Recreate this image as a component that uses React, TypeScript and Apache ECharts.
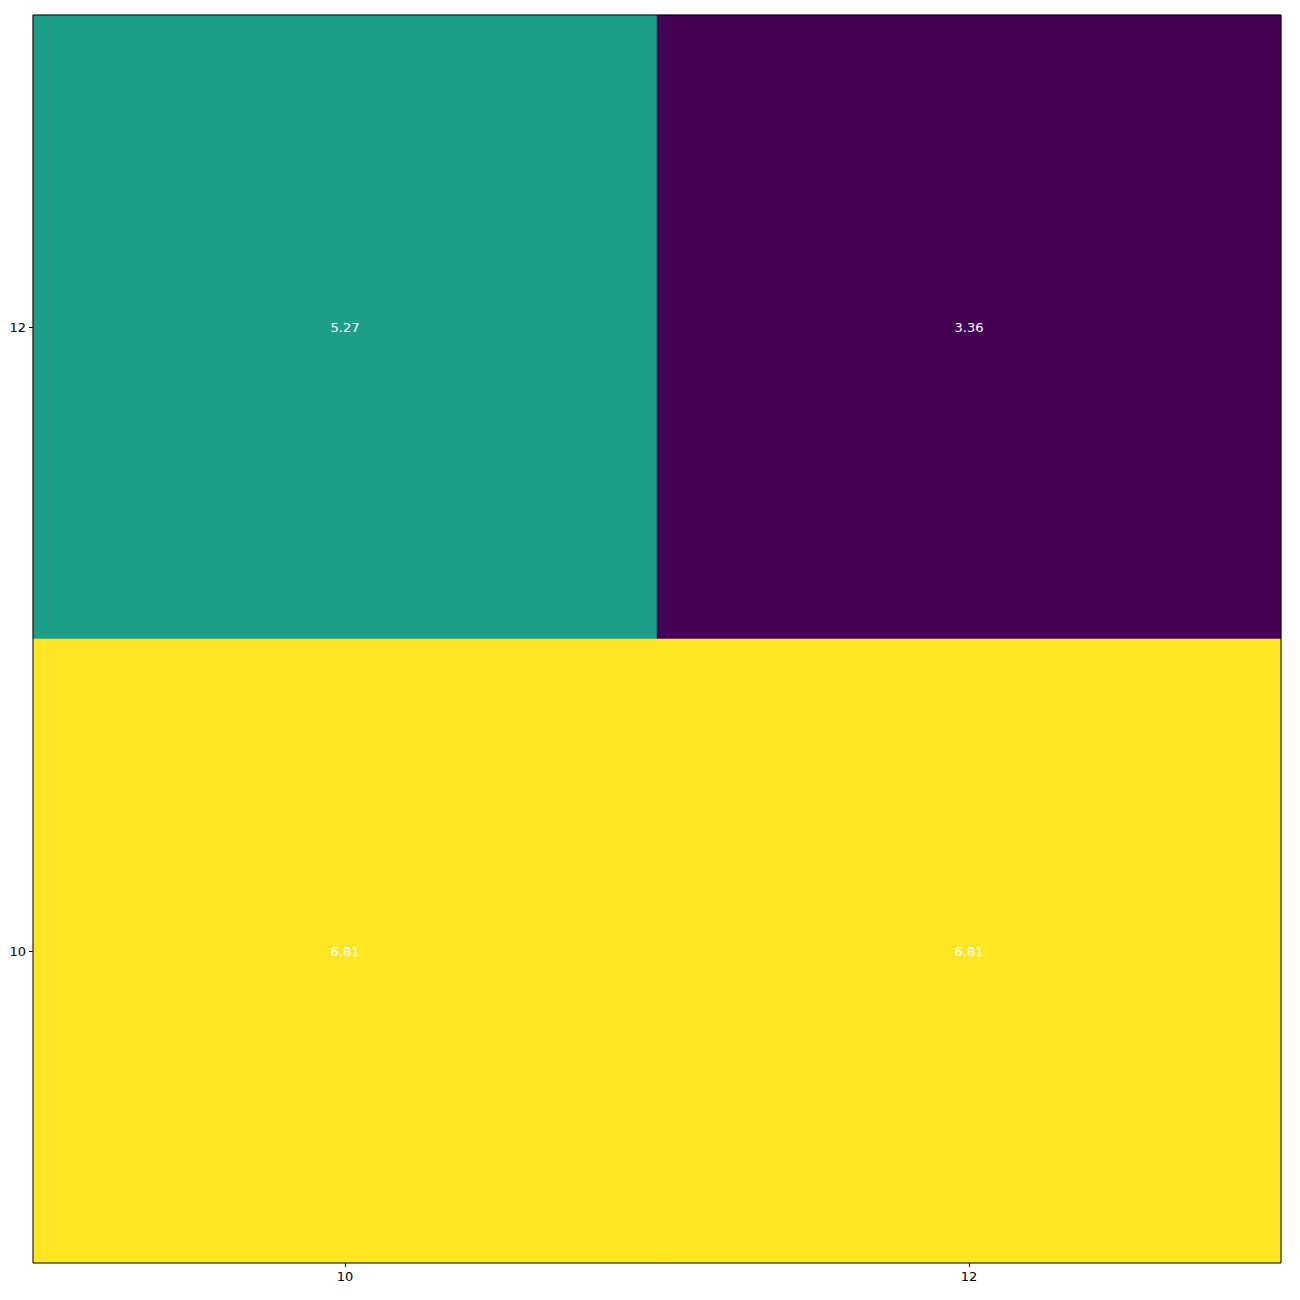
import React, { useEffect, useRef } from "react";
import * as echarts from "echarts";

const xCategories = ["10", "12"];
const yCategories = ["10", "12"];
// [xIndex, yIndex, value]
const cellValues: [number, number, number][] = [
  [0, 1, 5.27],
  [1, 1, 3.36],
  [0, 0, 6.81],
  [1, 0, 6.81],
];
const viridis = ["#440154", "#482878", "#3e4989", "#31688e", "#26828e", "#1f9e89", "#35b779", "#6ece58", "#b5de2b", "#fde725"];

export default function App() {
  const ref = useRef<HTMLDivElement>(null);
  useEffect(() => {
    document.body.style.margin = "0";
    const chart = echarts.init(ref.current!, null, { renderer: "svg" });
    const font = "DejaVu Sans";
    chart.setOption({
      animation: false,
      backgroundColor: "#ffffff",
      grid: { left: 33, top: 15, width: 1248, height: 1248, show: true, borderColor: "#000", borderWidth: 1, backgroundColor: "transparent", z: 10 },
      xAxis: {
        type: "category",
        data: xCategories,
        axisLine: { show: false },
        axisTick: { show: true, alignWithLabel: true, length: 4, lineStyle: { color: "#000" } },
        axisLabel: { color: "#000", fontSize: 13, fontFamily: font, margin: 7 },
        splitLine: { show: false },
      },
      yAxis: {
        type: "category",
        data: yCategories,
        axisLine: { show: false },
        axisTick: { show: true, alignWithLabel: true, length: 4, lineStyle: { color: "#000" } },
        axisLabel: { color: "#000", fontSize: 13, fontFamily: font, margin: 7 },
        splitLine: { show: false },
      },
      visualMap: {
        show: false,
        min: 3.36,
        max: 6.81,
        dimension: 2,
        inRange: { color: viridis },
      },
      series: [
        {
          type: "heatmap",
          data: cellValues,
          label: { show: true, color: "#fff", fontSize: 13, fontFamily: font, formatter: (p: any) => p.value[2].toFixed(2) },
          itemStyle: { borderWidth: 0 },
          emphasis: { disabled: true },
        },
      ],
    });
    return () => chart.dispose();
  }, []);
  return <div ref={ref} style={{ width: 1300, height: 1300 }} />;
}
